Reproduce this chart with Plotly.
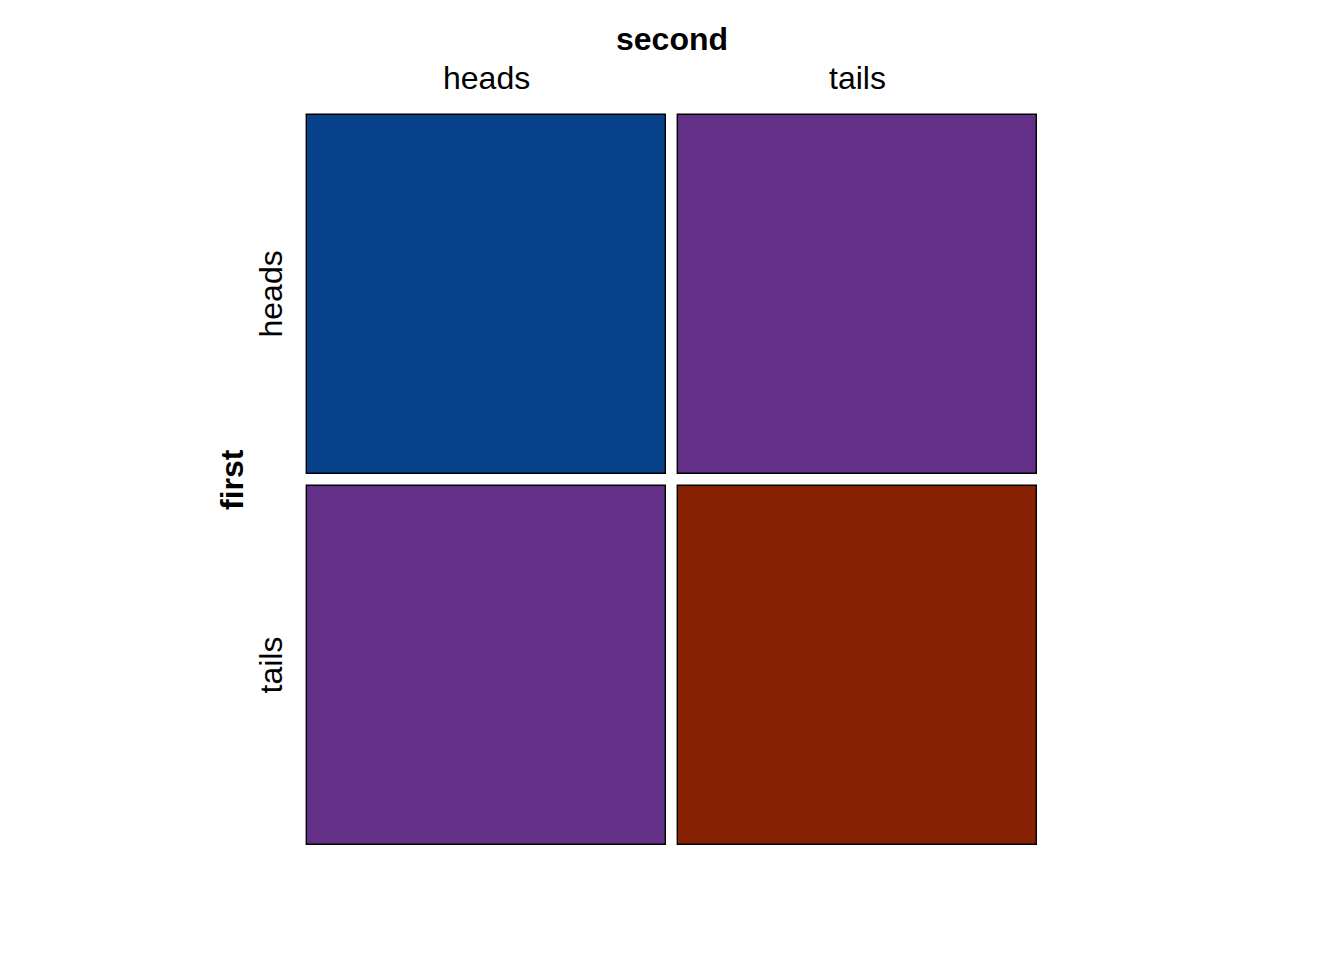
import plotly.graph_objects as go

first_levels = ["heads", "tails"]
second_levels = ["heads", "tails"]
# counts[first][second]
counts = [[1, 1],
          [1, 1]]
cell_colors = [["#08428A", "#632F87"],
               ["#632F87", "#862203"]]

GAP = 12 / 730.0
PAD = 5 / 730.0
total = sum(sum(r) for r in counts)
col_tot = [sum(counts[i][j] for i in range(2)) for j in range(2)]

fig = go.Figure()
usable_x = 1 - GAP * (len(second_levels) - 1)
x0 = 0.0
x_centers = []
for j, sl in enumerate(second_levels):
    w = usable_x * col_tot[j] / total
    usable_y = 1 - GAP * (len(first_levels) - 1)
    ytop = 1.0
    for i, fl in enumerate(first_levels):
        h = usable_y * counts[i][j] / col_tot[j]
        fig.add_trace(go.Bar(
            x=[x0 + w / 2], y=[h], base=[ytop - h], width=[w],
            marker=dict(color=cell_colors[i][j], line=dict(color="black", width=1.4)),
            showlegend=False, hoverinfo="skip"))
        ytop -= h + GAP
    x_centers.append(x0 + w / 2)
    x0 += w + GAP

usable_y = 1 - GAP * (len(first_levels) - 1)
ytop = 1.0
y_centers = []
for i in range(2):
    h = usable_y * counts[i][0] / col_tot[0]
    y_centers.append(ytop - h / 2)
    ytop -= h + GAP

FONT = "Liberation Sans, Arial, sans-serif"
fs = 32
for xc, lab in zip(x_centers, second_levels):
    fig.add_annotation(x=xc, y=1, xref="x", yref="y", yshift=37, text=lab, showarrow=False,
                       font=dict(family=FONT, size=fs, color="black"))
for yc, lab in zip(y_centers, first_levels):
    fig.add_annotation(x=0, y=yc, xref="x", yref="y", xshift=-37, text=lab, showarrow=False,
                       textangle=-90, font=dict(family=FONT, size=fs, color="black"))
fig.add_annotation(x=0.5, y=1, xref="x", yref="y", yshift=76, text="<b>second</b>", showarrow=False,
                   font=dict(family=FONT, size=fs, color="black"))
fig.add_annotation(x=0, y=0.5, xref="x", yref="y", xshift=-75, text="<b>first</b>", showarrow=False,
                   textangle=-90, font=dict(family=FONT, size=fs, color="black"))

fig.update_layout(
    width=1344, height=960,
    margin=dict(l=302, r=302, t=110, b=110),
    paper_bgcolor="white", plot_bgcolor="white",
    barmode="overlay", bargap=0,
    xaxis=dict(range=[-PAD, 1 + PAD], visible=False, fixedrange=True),
    yaxis=dict(range=[-PAD, 1 + PAD], visible=False, fixedrange=True),
)
fig.write_html("out.html")
